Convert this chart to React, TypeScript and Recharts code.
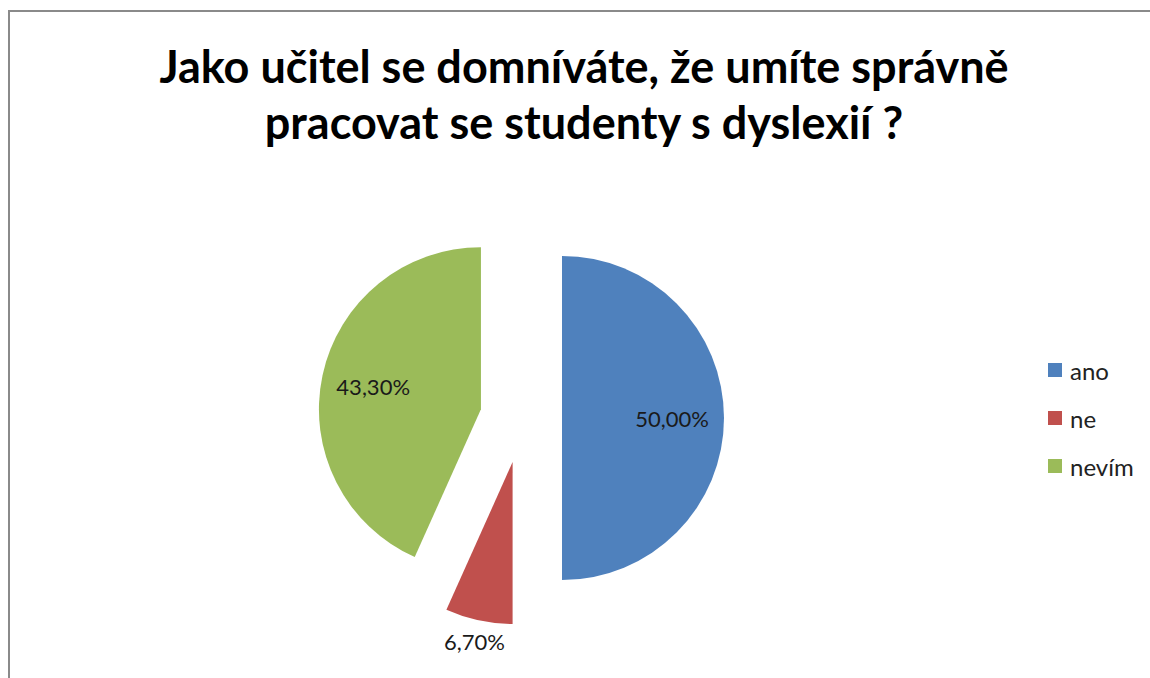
import { PieChart, Pie, Cell, Legend } from "recharts";

const categories = ["ano", "ne", "nevím"];
const shares = [50.0, 6.7, 43.3];
const colors = ["#4F81BD", "#C0504D", "#9BBB59"];
const explode = [40, 45, 42];
const labelRadius = [0.68, 1.13, 0.68];

const titleLines = [
  "Jako učitel se domníváte, že umíte správně",
  "pracovat se studenty s dyslexií ?",
];

const data = categories.map((name, i) => ({ name, value: shares[i] }));

const CX = 522;
const CY = 418;
const R = 162;
const FONT = "Lato, 'Open Sans', sans-serif";

// mid angle of each slice (recharts degrees, clockwise from 12 o'clock)
const total = shares.reduce((a, b) => a + b, 0);
const midAngles = shares.map((v, i) => {
  const before = shares.slice(0, i).reduce((a, b) => a + b, 0);
  return 90 - ((before + v / 2) / total) * 360;
});

const fmt = (v: number) => v.toFixed(2).replace(".", ",") + "%";

function LegendBox() {
  return (
    <div style={{ fontFamily: FONT, fontSize: 24, color: "#222" }}>
      {categories.map((c, i) => (
        <div key={c} style={{ display: "flex", alignItems: "center", height: 48 }}>
          <span style={{ width: 14, height: 14, background: colors[i], marginRight: 8, display: "inline-block" }} />
          {c}
        </div>
      ))}
    </div>
  );
}

export default function App() {
  return (
    <div style={{ position: "fixed", left: 0, top: 0, width: 1150, height: 678, overflow: "hidden", background: "#fff" }}>
      <div style={{ position: "absolute", left: 8, top: 10, width: 1300, height: 800, border: "2px solid #8a8a8a" }} />
      <div
        style={{
          position: "absolute",
          left: 0,
          top: 38,
          width: 1168,
          textAlign: "center",
          fontFamily: FONT,
          fontWeight: 700,
          fontSize: 45,
          lineHeight: "56px",
          color: "#000",
        }}
      >
        {titleLines.map((t) => (
          <div key={t}>{t}</div>
        ))}
      </div>
      <div style={{ position: "absolute", left: 0, top: 0 }}>
        <PieChart width={1150} height={678} margin={{ top: 0, right: 0, bottom: 0, left: 0 }}>
          {categories.map((c, k) => {
            const rad = (midAngles[k] * Math.PI) / 180;
            const cx = CX + explode[k] * Math.cos(rad);
            const cy = CY - explode[k] * Math.sin(rad);
            return (
              <Pie
                key={c}
                data={data}
                dataKey="value"
                nameKey="name"
                cx={cx}
                cy={cy}
                outerRadius={R}
                startAngle={90}
                endAngle={-270}
                stroke="none"
                isAnimationActive={false}
                labelLine={false}
                label={(p: any) => {
                  if (p.index !== k) return null;
                  const a = (p.midAngle * Math.PI) / 180;
                  const r = p.outerRadius * labelRadius[k];
                  return (
                    <text
                      x={p.cx + r * Math.cos(a)}
                      y={p.cy - r * Math.sin(a)}
                      textAnchor="middle"
                      dominantBaseline="central"
                      fontFamily={FONT}
                      fontSize={22}
                      fill="#1a1a1a"
                    >
                      {fmt(shares[k])}
                    </text>
                  );
                }}
              >
                {data.map((d, i) => (
                  <Cell key={d.name} fill={i === k ? colors[i] : "transparent"} />
                ))}
              </Pie>
            );
          })}
          <Legend
            content={() => <LegendBox />}
            wrapperStyle={{ left: 1048, top: 346, width: 100 }}
          />
        </PieChart>
      </div>
    </div>
  );
}
